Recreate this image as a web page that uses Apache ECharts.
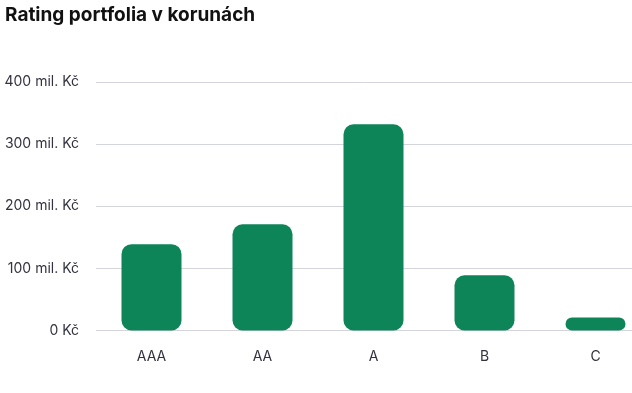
<!DOCTYPE html>
<html>
<head>
<meta charset="utf-8">
<script src="https://cdn.jsdelivr.net/npm/echarts@6/dist/echarts.min.js"></script>
<style>
html,body{margin:0;padding:0;background:#fff;}
#chart{width:632px;height:393px;}
</style>
</head>
<body>
<div id="chart"></div>
<script>
const title = "Rating portfolia v korunách";
const categories = ["AAA", "AA", "A", "B", "C"];
const values = [139, 171, 332, 89, 21];
const yTicks = [0, 100, 200, 300, 400];

const chart = echarts.init(document.getElementById('chart'), null, {renderer: 'canvas'});
chart.setOption({
  animation: false,
  backgroundColor: '#ffffff',
  title: {
    text: title,
    left: 0,
    top: 1,
    textStyle: {fontFamily: 'Inter', fontWeight: 700, fontSize: 19, color: '#111111'}
  },
  grid: {left: 96, top: 82, right: -19, bottom: 62.5, outerBoundsMode: 'none', containLabel: false},
  xAxis: {
    type: 'category',
    data: categories,
    axisLine: {show: false},
    axisTick: {show: false},
    axisLabel: {
      margin: 19,
      fontFamily: 'Inter',
      fontSize: 14,
      color: '#333340'
    }
  },
  yAxis: {
    type: 'value',
    min: yTicks[0],
    max: yTicks[yTicks.length - 1],
    interval: 100,
    axisLine: {show: false},
    axisTick: {show: false},
    splitLine: {lineStyle: {color: '#d4d4dc', width: 1}},
    axisLabel: {
      margin: 17,
      fontFamily: 'Inter',
      fontSize: 14,
      color: '#333340',
      formatter: v => v === 0 ? '0 Kč' : v + ' mil. Kč'
    }
  },
  series: [{
    type: 'bar',
    data: values,
    barWidth: 60,
    itemStyle: {color: '#0e8558', borderRadius: 10}
  }]
});
</script>
</body>
</html>
